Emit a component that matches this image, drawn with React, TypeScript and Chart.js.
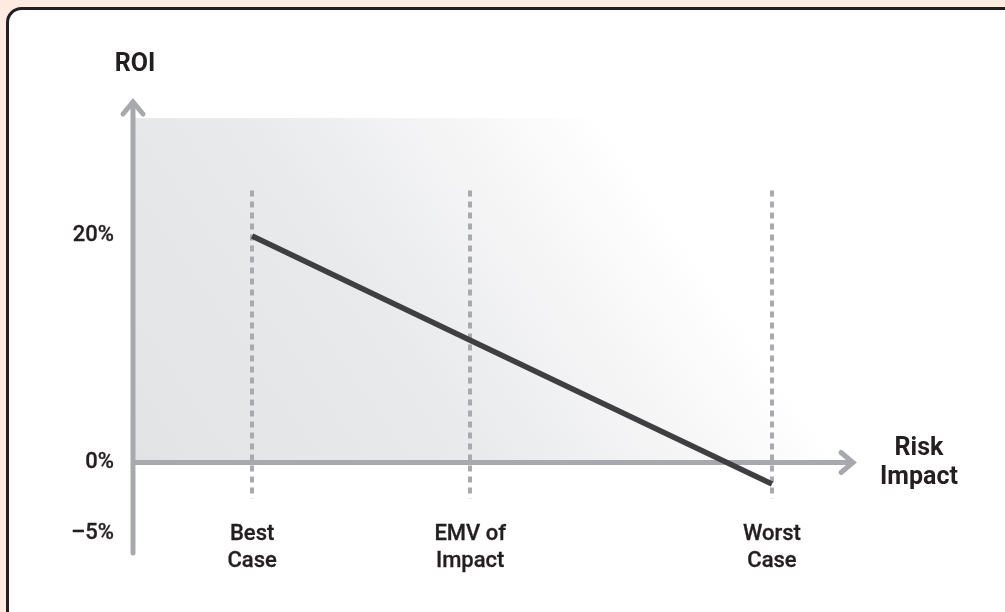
import React, { useEffect, useRef } from "react";
import { Chart, registerables } from "chart.js";

Chart.register(...registerables);

// ---- data ----
const categories: string[][] = [["Best", "Case"], ["EMV of", "Impact"], ["Worst", "Case"]];
const riskImpact: number[] = [16.5, 46.7, 88.5]; // position on the Risk Impact axis (0-100)
const roi: number[] = [20, 10.8, -1.9]; // ROI in %
const yTickValues: number[] = [20, 0, -6.3];
const yTickLabels: string[] = ["20%", "0%", "–5%"];
const yTitle = "ROI";
const xTitle = ["Risk", "Impact"];

// ---- scale ranges / styling ----
const X_MIN = 0;
const X_MAX = 100;
const Y_MIN = -4.9;
const Y_MAX = 32;
const Y_AXIS_END = -8;
const GUIDE_TOP = 24;
const GUIDE_BOTTOM = -3.2;
const AREA_TOP = 30.4;
const AREA_RIGHT = 97.6;

const TEXT = "#231f20";
const AXIS = "#a8a9ad";
const FONT = "Roboto, 'Noto Sans', sans-serif";

const decorPlugin = {
  id: "decor",
  beforeDraw(chart: any) {
    const { ctx, chartArea } = chart;
    const xs = chart.scales.x;
    const ys = chart.scales.y;
    const W = chart.width;
    const H = chart.height;
    ctx.save();
    // page background
    ctx.fillStyle = "#fdeae0";
    ctx.fillRect(0, 0, W, H);
    // card
    const r = 14;
    const cx = 7.5, cy = 8.5, cw = W + 20, ch = H + 10;
    ctx.beginPath();
    ctx.moveTo(cx + r, cy);
    ctx.lineTo(cx + cw - r, cy);
    ctx.arcTo(cx + cw, cy, cx + cw, cy + r, r);
    ctx.lineTo(cx + cw, cy + ch - r);
    ctx.arcTo(cx + cw, cy + ch, cx + cw - r, cy + ch, r);
    ctx.lineTo(cx + r, cy + ch);
    ctx.arcTo(cx, cy + ch, cx, cy + ch - r, r);
    ctx.lineTo(cx, cy + r);
    ctx.arcTo(cx, cy, cx + r, cy, r);
    ctx.closePath();
    ctx.fillStyle = "#ffffff";
    ctx.fill();
    ctx.lineWidth = 3;
    ctx.strokeStyle = "#231f20";
    ctx.stroke();

    // gradient area
    const ax0 = chartArea.left;
    const ay0 = ys.getPixelForValue(AREA_TOP);
    const ax1 = xs.getPixelForValue(AREA_RIGHT);
    const ay1 = ys.getPixelForValue(0);
    const g = ctx.createLinearGradient(
      xs.getPixelForValue(0), ys.getPixelForValue(0),
      xs.getPixelForValue(65.9), ys.getPixelForValue(29.26)
    );
    g.addColorStop(0, "#e2e3e5");
    g.addColorStop(0.5, "#e9eaec");
    g.addColorStop(0.8, "#f6f6f7");
    g.addColorStop(1, "#ffffff");
    ctx.fillStyle = g;
    ctx.fillRect(ax0, ay0, ax1 - ax0, ay1 - ay0);

    // dashed guides
    ctx.strokeStyle = "#a9aaae";
    ctx.lineWidth = 4;
    ctx.setLineDash([6, 5]);
    ctx.lineCap = "butt";
    riskImpact.forEach((v) => {
      const px = Math.round(xs.getPixelForValue(v));
      ctx.beginPath();
      ctx.moveTo(px, ys.getPixelForValue(GUIDE_TOP));
      ctx.lineTo(px, ys.getPixelForValue(GUIDE_BOTTOM));
      ctx.stroke();
    });
    ctx.setLineDash([]);

    // axes
    ctx.strokeStyle = AXIS;
    ctx.lineWidth = 5;
    ctx.lineCap = "round";
    ctx.lineJoin = "miter";
    const yx = chartArea.left;
    const y0 = ys.getPixelForValue(0);
    const right = chartArea.right;
    // y axis
    ctx.beginPath();
    ctx.moveTo(yx, ys.getPixelForValue(Y_AXIS_END));
    ctx.lineTo(yx, chartArea.top + 3);
    ctx.stroke();
    ctx.beginPath();
    ctx.moveTo(yx - 10, chartArea.top + 14);
    ctx.lineTo(yx, chartArea.top + 2);
    ctx.lineTo(yx + 10, chartArea.top + 14);
    ctx.stroke();
    // x axis
    ctx.lineCap = "butt";
    ctx.beginPath();
    ctx.moveTo(yx, y0);
    ctx.lineTo(right - 3, y0);
    ctx.stroke();
    ctx.lineCap = "round";
    ctx.beginPath();
    ctx.moveTo(right - 14, y0 - 10);
    ctx.lineTo(right - 2, y0);
    ctx.lineTo(right - 14, y0 + 10);
    ctx.stroke();
    ctx.restore();
  },
  afterDraw(chart: any) {
    const { ctx, chartArea } = chart;
    const ys = chart.scales.y;
    ctx.save();
    ctx.fillStyle = TEXT;
    ctx.textAlign = "center";
    ctx.textBaseline = "middle";
    ctx.font = `bold 25px ${FONT}`;
    ctx.fillText(yTitle, chartArea.left + 2, 65);
    const y0 = ys.getPixelForValue(0);
    ctx.fillText(xTitle[0], chartArea.right + 64, y0 - 14);
    ctx.fillText(xTitle[1], chartArea.right + 64, y0 + 15);
    ctx.restore();
  },
};

export default function App() {
  const canvasRef = useRef<HTMLCanvasElement | null>(null);

  useEffect(() => {
    document.body.style.margin = "0";
    const canvas = canvasRef.current;
    if (!canvas) return;
    const chart = new Chart(canvas, {
      type: "line",
      data: {
        datasets: [
          {
            data: riskImpact.map((x, i) => ({ x, y: roi[i] })),
            borderColor: "#3f3f41",
            borderWidth: 5.5,
            borderCapStyle: "butt",
            pointRadius: 0,
            fill: false,
            tension: 0,
            clip: false,
          },
        ],
      },
      options: {
        responsive: false,
        animation: false,
        devicePixelRatio: 1,
        layout: { padding: { top: 100, right: 150, left: 0, bottom: 0 } },
        plugins: {
          legend: { display: false },
          tooltip: { enabled: false },
          title: { display: false },
        },
        scales: {
          x: {
            type: "linear",
            min: X_MIN,
            max: X_MAX,
            grid: { display: false, drawTicks: false },
            border: { display: false },
            afterBuildTicks: (scale: any) => {
              scale.ticks = riskImpact.map((v) => ({ value: v }));
            },
            afterFit: (scale: any) => {
              scale.height = 94;
            },
            ticks: {
              autoSkip: false,
              maxRotation: 0,
              minRotation: 0,
              padding: 3,
              color: TEXT,
              textStrokeColor: TEXT,
              textStrokeWidth: 0.3,
              font: { family: FONT, size: 22, weight: "500", lineHeight: 1.23 },
              callback: (_v: any, i: number) => categories[i],
            },
          },
          y: {
            type: "linear",
            min: Y_MIN,
            max: Y_MAX,
            grid: { display: false, drawTicks: false },
            border: { display: false },
            afterBuildTicks: (scale: any) => {
              scale.ticks = yTickValues.map((v) => ({ value: v }));
            },
            afterFit: (scale: any) => {
              scale.width = 133;
            },
            ticks: {
              autoSkip: false,
              padding: 19,
              color: TEXT,
              textStrokeColor: TEXT,
              textStrokeWidth: 0.3,
              font: { family: FONT, size: 22, weight: "500" },
              callback: (_v: any, i: number) => yTickLabels[i],
            },
          },
        },
      },
      plugins: [decorPlugin],
    } as any);
    return () => chart.destroy();
  }, []);

  return (
    <div style={{ width: 1005, height: 612 }}>
      <canvas ref={canvasRef} width={1005} height={612} style={{ display: "block", width: 1005, height: 612 }} />
    </div>
  );
}
